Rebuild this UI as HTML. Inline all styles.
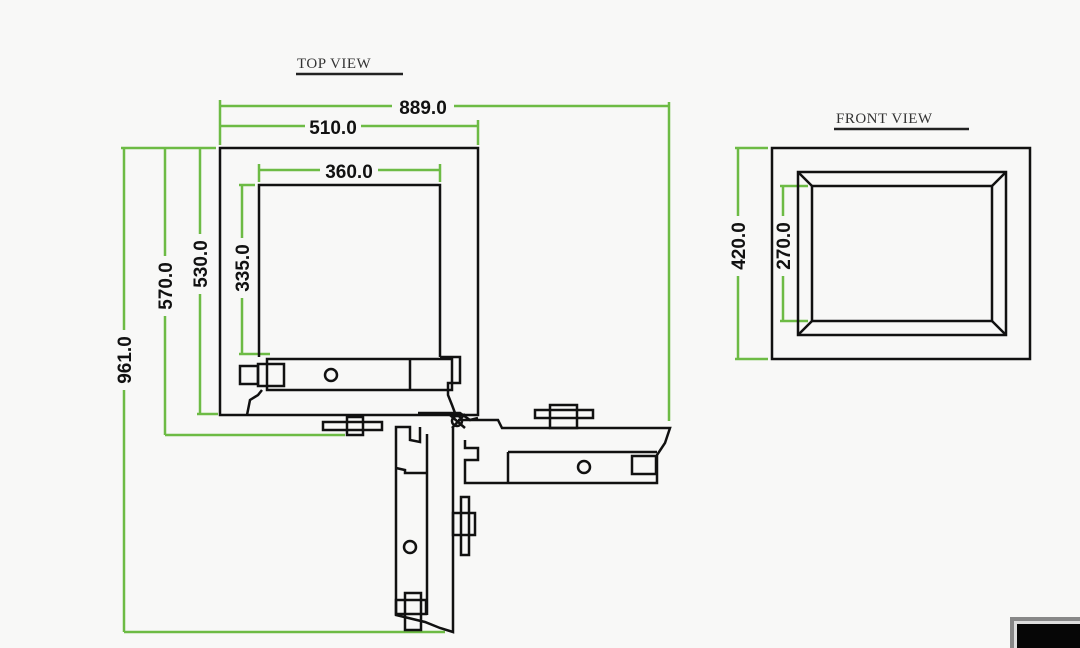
<!DOCTYPE html>
<html><head><style>
html,body{margin:0;padding:0;background:#f7f7f6;}
svg{display:block;}
.s{font-family:"Liberation Sans",sans-serif;}
.t{font-family:"Liberation Serif",serif;}
</style></head><body>
<svg width="1080" height="648" viewBox="0 0 1080 648">
<rect width="1080" height="648" fill="#f8f8f7"/>
<!-- titles -->
<text class="t" x="297" y="68" font-size="15" fill="#333" letter-spacing="0.5">TOP VIEW</text>
<line x1="296" y1="74" x2="403" y2="74" stroke="#222" stroke-width="2.5"/>
<text class="t" x="836" y="123" font-size="15" fill="#333" letter-spacing="0.5">FRONT VIEW</text>
<line x1="834" y1="129" x2="969" y2="129" stroke="#222" stroke-width="2.5"/>

<g stroke="#6dbb45" stroke-width="2.5" fill="none">
<line x1="220" y1="106" x2="669" y2="106"/><line x1="220" y1="100" x2="220" y2="145"/><line x1="669" y1="102" x2="669" y2="421"/>
<line x1="220" y1="126" x2="478" y2="126"/><line x1="478" y1="120" x2="478" y2="145"/>
<line x1="259" y1="170" x2="440" y2="170"/><line x1="259" y1="164" x2="259" y2="182"/><line x1="440" y1="164" x2="440" y2="182"/>
<line x1="121" y1="148" x2="216" y2="148"/>
<line x1="124" y1="148" x2="124" y2="632"/><line x1="124" y1="632" x2="445" y2="632"/>
<line x1="165" y1="148" x2="165" y2="435"/><line x1="165" y1="435" x2="345" y2="435"/>
<line x1="200" y1="148" x2="200" y2="414"/><line x1="197" y1="414" x2="218" y2="414"/>
<line x1="242" y1="185" x2="242" y2="354"/><line x1="239" y1="185" x2="255" y2="185"/><line x1="239" y1="354" x2="270" y2="354"/>
<line x1="738" y1="148" x2="738" y2="359"/><line x1="735" y1="148" x2="768" y2="148"/><line x1="735" y1="359" x2="768" y2="359"/>
<line x1="783" y1="186" x2="783" y2="321"/><line x1="780" y1="186" x2="808" y2="186"/><line x1="780" y1="321" x2="808" y2="321"/>
</g>
<g class="s" font-size="19" font-weight="bold" fill="#111" text-anchor="middle">
<rect x="392" y="96" width="62" height="20" fill="#f8f8f7"/><text x="423" y="114">889.0</text>
<rect x="305" y="116" width="56" height="20" fill="#f8f8f7"/><text x="333" y="134">510.0</text>
<rect x="320" y="160" width="58" height="20" fill="#f8f8f7"/><text x="349" y="178">360.0</text>
<g transform="translate(131,360) rotate(-90)"><rect x="-30" y="-16" width="60" height="20" fill="#f8f8f7"/><text x="0" y="0">961.0</text></g>
<g transform="translate(172,286) rotate(-90)"><rect x="-30" y="-16" width="60" height="20" fill="#f8f8f7"/><text x="0" y="0">570.0</text></g>
<g transform="translate(207,264) rotate(-90)"><rect x="-30" y="-16" width="60" height="20" fill="#f8f8f7"/><text x="0" y="0">530.0</text></g>
<g transform="translate(249,268) rotate(-90)"><rect x="-30" y="-16" width="60" height="20" fill="#f8f8f7"/><text x="0" y="0">335.0</text></g>
<g transform="translate(745,246) rotate(-90)"><rect x="-30" y="-16" width="60" height="20" fill="#f8f8f7"/><text x="0" y="0">420.0</text></g>
<g transform="translate(790,246) rotate(-90)"><rect x="-30" y="-16" width="60" height="20" fill="#f8f8f7"/><text x="0" y="0">270.0</text></g>
</g>

<g stroke="#111" stroke-width="2.5" fill="none">
<rect x="220" y="148" width="258" height="267"/>
<polyline points="259,357 259,185 440,185 440,357"/>
<rect x="267" y="359" width="185" height="31"/>
<circle cx="331" cy="375" r="6"/>
<rect x="240" y="366" width="18" height="18"/><rect x="258" y="364" width="26" height="22"/>
<polyline points="410,359 410,390"/>
<polyline points="440,357 460,357 460,383 448,383 448,395 452,405 455,413"/>
<polyline points="262,390 258,395 250,400 247,415"/>
<polyline points="418,413 460,413 470,420 478,418"/>
<rect x="323" y="422" width="59" height="8"/><rect x="347" y="417" width="16" height="18"/>
<circle cx="457" cy="421" r="5"/>
<line x1="450" y1="415" x2="465" y2="428"/><line x1="465" y1="414" x2="452" y2="428"/>
<polyline points="458,420 498,420 502,428 670,428 665,443 657,455 657,483 465,483 465,460 478,460 478,448 465,448 465,440"/>
<line x1="508" y1="452" x2="657" y2="452"/>
<line x1="508" y1="452" x2="508" y2="483"/>
<circle cx="584" cy="467" r="6"/>
<rect x="632" y="456" width="24" height="18"/>
<rect x="535" y="410" width="58" height="8"/><rect x="550" y="405" width="27" height="23"/>
<polyline points="453,427 453,632 440,628 425,622 396,615 396,427 410,427 410,440 420,442 420,427"/>
<line x1="427" y1="434" x2="427" y2="615"/>
<polyline points="396,468 405,470 405,473 427,473"/>
<circle cx="410" cy="547" r="6"/>
<rect x="405" y="593" width="16" height="37"/><rect x="396" y="600" width="30" height="14"/>
<rect x="453" y="513" width="22" height="22"/><rect x="461" y="497" width="8" height="58"/>
<rect x="772" y="148" width="258" height="211"/>
<rect x="798" y="172" width="208" height="163"/>
<rect x="812" y="186" width="180" height="135"/>
<line x1="798" y1="172" x2="812" y2="186"/><line x1="1006" y1="172" x2="992" y2="186"/>
<line x1="798" y1="335" x2="812" y2="321"/><line x1="1006" y1="335" x2="992" y2="321"/>
</g>
<rect x="1010" y="617" width="70" height="31" fill="#888"/>
<rect x="1014" y="621" width="66" height="27" fill="#ddd"/>
<rect x="1017" y="624" width="63" height="24" fill="#060606"/>
</svg>
</body></html>
